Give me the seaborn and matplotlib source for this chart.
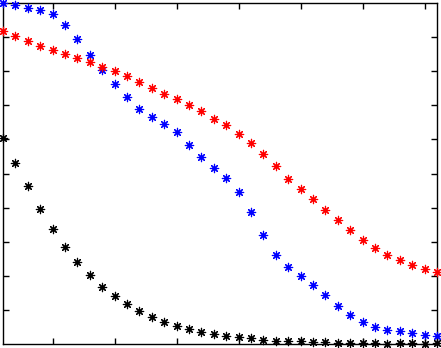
import numpy as np
import pandas as pd
import matplotlib
matplotlib.use('Agg')
import matplotlib.pyplot as plt
import seaborn as sns

# x positions: one point per step
steps = list(range(1, 37))

# values
blue_vals = [1.000, 0.994, 0.985, 0.979, 0.968, 0.935, 0.894, 0.847, 0.803, 0.762,
             0.724, 0.688, 0.665, 0.644, 0.621, 0.585, 0.547, 0.515, 0.488, 0.447,
             0.388, 0.321, 0.262, 0.226, 0.200, 0.174, 0.144, 0.112, 0.085, 0.065,
             0.050, 0.041, 0.038, 0.032, 0.026, 0.024]
red_vals = [0.918, 0.903, 0.888, 0.874, 0.862, 0.850, 0.838, 0.826, 0.812, 0.800,
            0.785, 0.768, 0.750, 0.732, 0.718, 0.700, 0.682, 0.659, 0.641, 0.615,
            0.588, 0.556, 0.521, 0.485, 0.456, 0.426, 0.394, 0.365, 0.335, 0.306,
            0.282, 0.262, 0.247, 0.232, 0.221, 0.212]
black_vals = [0.603, 0.532, 0.462, 0.397, 0.338, 0.285, 0.241, 0.203, 0.168, 0.141,
              0.118, 0.097, 0.079, 0.065, 0.053, 0.044, 0.035, 0.029, 0.024, 0.021,
              0.018, 0.012, 0.009, 0.009, 0.009, 0.006, 0.006, 0.003, 0.003, 0.003,
              0.003, 0.001, 0.003, 0.003, 0.001, 0.003]

series_names = ['blue', 'red', 'black']
series_colors = {'blue': '#0000ff', 'red': '#ff0000', 'black': '#000000'}

df = pd.concat([
    pd.DataFrame({'step': steps, 'value': blue_vals, 'series': 'blue'}),
    pd.DataFrame({'step': steps, 'value': red_vals, 'series': 'red'}),
    pd.DataFrame({'step': steps, 'value': black_vals, 'series': 'black'}),
])

sns.set_style("white")

fig = plt.figure(figsize=(4.41, 3.48), dpi=100)
ax = fig.add_axes([3 / 441, 4 / 348, 434 / 441, 341 / 348])

# asterisk markers, one colour per series
for name in series_names:
    sub = df[df['series'] == name]
    sns.scatterplot(data=sub, x='step', y='value', ax=ax,
                    marker=(8, 2, 0), s=36, linewidth=0.85,
                    color=series_colors[name], edgecolor=series_colors[name],
                    clip_on=False, legend=False, zorder=3)

ax.set_xlim(1, 36)
ax.set_ylim(0, 1)
ax.set_xticks([5, 10, 15, 20, 25, 30, 35])
ax.set_yticks(np.arange(0.1, 1.0, 0.1))
ax.tick_params(direction='in', length=4, width=1, color='black',
               top=True, right=True, bottom=True, left=True,
               labelbottom=False, labelleft=False)
ax.set_xlabel('')
ax.set_ylabel('')
for sp in ax.spines.values():
    sp.set_color('black')
    sp.set_linewidth(1)
    sp.set_visible(True)

fig.savefig('out.png', dpi=100)
